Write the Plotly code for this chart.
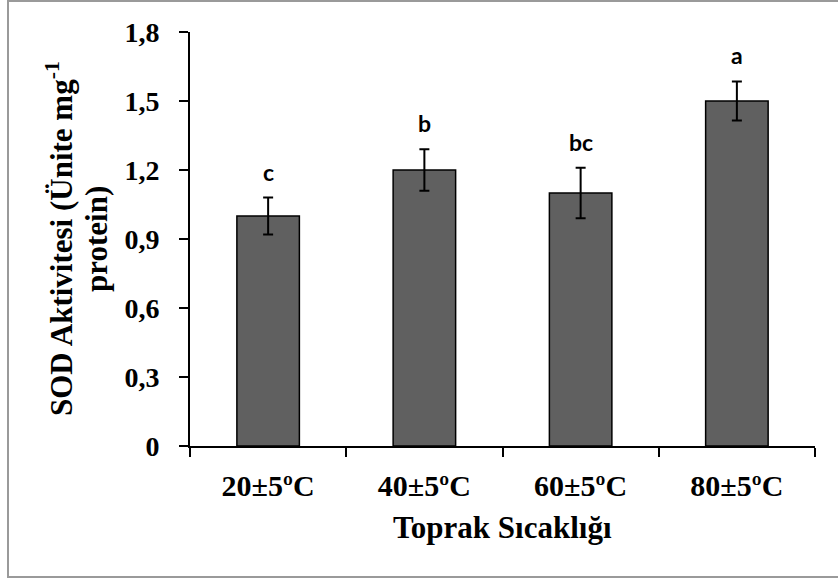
import plotly.graph_objects as go

categories = ["20±5ºC", "40±5ºC", "60±5ºC", "80±5ºC"]
sod_values = [1.00, 1.20, 1.10, 1.50]
sod_errors = [0.08, 0.09, 0.11, 0.085]
letters = ["c", "b", "bc", "a"]
y_ticks = [0, 0.3, 0.6, 0.9, 1.2, 1.5, 1.8]
y_tick_labels = ["0", "0,3", "0,6", "0,9", "1,2", "1,5", "1,8"]

serif = "Liberation Serif"

fig = go.Figure()
fig.add_trace(go.Bar(
    x=categories, y=sod_values,
    width=0.4,
    marker=dict(color="#606060", line=dict(color="#000000", width=1.5)),
    error_y=dict(type="data", array=sod_errors, visible=True,
                 color="#000000", thickness=2, width=5),
    showlegend=False,
))

for cat, v, e, lab in zip(categories, sod_values, sod_errors, letters):
    fig.add_annotation(x=cat, y=v + e, text="<b>" + lab + "</b>",
                       showarrow=False, yanchor="bottom", yshift=10,
                       font=dict(family="Lato", size=23, color="#000000"))

fig.add_annotation(xref="paper", yref="paper", x=0.5, y=-0.196,
                   text="<b>Toprak Sıcaklığı</b>", showarrow=False,
                   xanchor="center", yanchor="middle",
                   font=dict(family=serif, size=31, color="#000000"))

fig.add_annotation(xref="paper", yref="paper", x=(59 - 190) / 625, y=0.5,
                   text="<b>SOD Aktivitesi (Ünite mg<sup>-1</sup></b>",
                   showarrow=False, textangle=-90,
                   xanchor="center", yanchor="middle",
                   font=dict(family=serif, size=31, color="#000000"))
fig.add_annotation(xref="paper", yref="paper", x=(96 - 190) / 625, y=0.5,
                   text="<b>protein)</b>",
                   showarrow=False, textangle=-90,
                   xanchor="center", yanchor="middle",
                   font=dict(family=serif, size=31, color="#000000"))

fig.add_shape(type="rect", xref="paper", yref="paper",
              x0=(8 - 190) / 625, x1=(860 - 190) / 625,
              y0=(446 - 577) / 414, y1=(446 - 1) / 414,
              line=dict(color="#9a9a9a", width=2), layer="below")

fig.update_layout(
    width=838, height=581,
    margin=dict(l=190, r=23, t=32, b=135),
    plot_bgcolor="white", paper_bgcolor="white",
    bargap=0.6,
)
fig.update_xaxes(
    showline=True, linecolor="#000000", linewidth=2,
    ticks="outside", ticklen=9, tickwidth=2, tickcolor="#000000",
    tickson="boundaries", ticklabelstandoff=12,
    tickfont=dict(family=serif, size=30, color="#000000", weight="bold"),
    showgrid=False, zeroline=False,
)
fig.update_yaxes(
    range=[0, 1.8], tickvals=y_ticks, ticktext=y_tick_labels,
    showline=True, linecolor="#000000", linewidth=2,
    ticks="outside", ticklen=9, tickwidth=2, tickcolor="#000000",
    ticklabelstandoff=14,
    tickfont=dict(family=serif, size=28, color="#000000", weight="bold"),
    showgrid=False, zeroline=False,
)

fig.write_html("out.html", config={"displayModeBar": False},
               post_script="document.body.style.margin='0';document.body.style.overflow='hidden';")
